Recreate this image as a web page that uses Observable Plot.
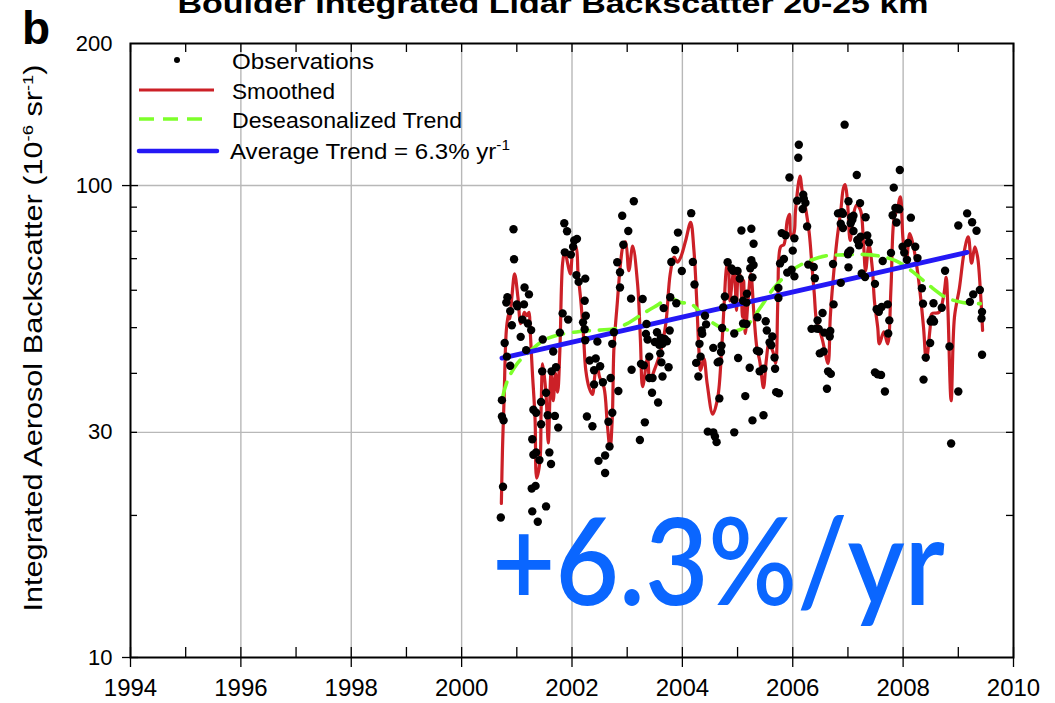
<!DOCTYPE html>
<html>
<head>
<meta charset="utf-8">
<script src="https://cdn.jsdelivr.net/npm/d3@7"></script>
<script src="https://cdn.jsdelivr.net/npm/@observablehq/plot@0.6"></script>
<style>
  html, body { margin: 0; padding: 0; background: #fff; }
  #chart svg { display: block; }
</style>
</head>
<body>
<div id="chart"></div>
<script>
// Boulder lidar: integrated aerosol backscatter, 20-25 km layer, 2000-2009.

// Individual lidar observations: [decimal year, backscatter (1e-6 sr^-1)]
const observations = [
  [2000.71,19.8],[2000.75,23.0],[2000.73,32.4],[2000.76,31.8],[2000.73,35.1],[2000.78,46.4],[2000.81,56.5],[2000.83,58.0],[2000.82,43.4],[2000.88,41.5],[2000.88,54.2],[2000.91,50.6],[2000.94,80.8],[2000.95,69.8],
  [2001.00,56.0],[2001.01,55.5],[2001.07,47.8],[2001.10,52.0],[2001.13,56.0],[2001.14,60.8],[2001.17,44.8],[2001.20,51.0],[2001.22,58.8],[2001.26,49.4],[2001.28,29.0],[2001.30,33.5],[2001.35,33.0],[2001.30,26.9],[2001.35,27.2],[2001.41,26.2],[2001.27,22.8],[2001.34,23.1],[2001.28,20.4],[2001.38,19.4],[2001.44,34.8],[2001.44,31.2],[2001.46,40.4],[2001.47,47.2],[2001.53,36.4],[2001.53,20.9],[2001.56,32.6],[2001.59,27.2],[2001.62,25.7],[2001.63,40.4],[2001.66,44.5],[2001.69,32.5],[2001.71,41.2],[2001.75,30.7],[2001.78,48.8],[2001.83,53.6],[2001.86,83.2],[2001.87,72.2],[2001.91,80.0],[2001.93,52.0],[2001.98,71.4],
  [2002.02,74.2],[2002.04,76.5],[2002.09,77.1],[2002.08,64.6],[2002.12,62.5],[2002.20,51.3],[2002.23,57.0],[2002.23,49.6],[2002.24,63.5],[2002.24,47.0],[2002.25,53.0],[2002.27,32.4],[2002.32,42.6],[2002.37,30.9],[2002.40,40.6],[2002.40,37.9],[2002.43,43.0],[2002.46,46.7],[2002.48,26.1],[2002.51,41.4],[2002.56,38.3],[2002.60,26.8],[2002.60,24.6],[2002.66,31.6],[2002.68,28.0],[2002.70,39.1],[2002.73,46.2],[2002.73,33.0],[2002.76,48.9],[2002.82,68.8],[2002.84,36.7],[2002.87,65.5],[2002.87,60.8],[2002.91,86.3],[2002.93,74.9],
  [2003.02,80.1],[2003.07,57.6],[2003.08,40.7],[2003.12,92.6],[2003.23,28.9],[2003.25,41.9],[2003.28,57.5],[2003.30,41.6],[2003.32,31.5],[2003.35,50.9],[2003.34,48.5],[2003.37,47.2],[2003.40,43.4],[2003.40,39.1],[2003.45,36.4],[2003.46,39.1],[2003.50,46.6],[2003.54,48.9],[2003.56,34.7],[2003.58,46.0],[2003.60,44.1],[2003.61,47.6],[2003.62,42.2],[2003.64,39.4],[2003.64,46.2],[2003.66,55.0],[2003.68,47.3],[2003.72,46.8],[2003.75,41.2],[2003.77,49.3],[2003.78,58.0],[2003.80,68.9],[2003.87,73.0],[2003.89,56.3],[2003.92,79.5],[2003.99,65.9],
  [2004.16,87.4],[2004.19,68.9],[2004.22,61.7],[2004.25,42.1],[2004.29,39.4],[2004.31,46.2],[2004.33,43.4],[2004.35,49.3],[2004.36,48.5],[2004.41,53.0],[2004.43,50.8],[2004.46,30.1],[2004.56,30.0],[2004.56,45.3],[2004.59,29.4],[2004.62,28.6],[2004.64,42.2],[2004.67,42.4],[2004.67,35.4],[2004.70,44.4],[2004.71,45.8],[2004.72,49.9],[2004.74,55.2],[2004.77,58.2],[2004.82,68.8],[2004.89,66.7],[2004.92,66.0],[2004.94,57.3],[2004.94,48.6],[2004.94,30.0],
  [2005.00,65.9],[2005.01,43.1],[2005.04,63.5],[2005.07,80.3],[2005.10,57.0],[2005.10,51.0],[2005.14,35.8],[2005.16,56.5],[2005.16,50.9],[2005.17,59.0],[2005.22,41.1],[2005.25,81.0],[2005.29,75.3],[2005.25,69.5],[2005.29,67.9],[2005.23,66.8],[2005.27,63.9],[2005.27,31.8],[2005.35,44.7],[2005.36,52.6],[2005.39,44.5],[2005.40,40.4],[2005.47,32.6],[2005.47,40.9],[2005.51,51.6],[2005.53,49.3],[2005.58,46.5],[2005.61,45.9],[2005.63,47.9],[2005.67,43.2],[2005.68,40.9],[2005.70,36.5],[2005.75,36.3],[2005.74,60.7],[2005.74,57.8],[2005.77,68.4],[2005.80,79.3],[2005.84,69.9],[2005.87,78.5],[2005.90,65.4],[2005.94,104.0],[2005.98,66.3],
  [2006.00,72.8],[2006.03,77.3],[2006.03,64.2],[2006.08,92.9],[2006.10,114.5],[2006.11,122.0],[2006.18,89.2],[2006.19,95.6],[2006.20,93.8],[2006.23,91.9],[2006.26,81.9],[2006.28,68.0],[2006.38,67.2],[2006.40,63.6],[2006.34,49.7],[2006.43,49.8],[2006.45,51.8],[2006.47,49.7],[2006.49,44.1],[2006.54,53.7],[2006.56,44.5],[2006.57,48.8],[2006.62,37.1],[2006.64,40.4],[2006.67,47.9],[2006.68,49.2],[2006.69,39.9],[2006.73,68.2],[2006.74,56.0],[2006.82,87.3],[2006.87,62.2],[2006.87,83.0],[2006.89,87.8],[2006.91,87.1],[2006.91,81.3],[2006.94,134.6],
  [2007.00,71.5],[2007.01,92.6],[2007.01,72.2],[2007.01,67.1],[2007.04,72.8],[2007.05,83.2],[2007.06,85.7],[2007.08,84.6],[2007.10,86.3],[2007.10,80.1],[2007.16,105.3],[2007.17,76.7],[2007.18,76.5],[2007.20,74.7],[2007.22,91.8],[2007.23,77.9],[2007.25,65.1],[2007.31,64.0],[2007.32,85.7],[2007.35,78.4],[2007.38,75.8],[2007.49,61.9],[2007.49,40.2],[2007.52,54.7],[2007.54,39.8],[2007.56,54.0],[2007.60,39.7],[2007.61,55.3],[2007.63,69.2],[2007.67,36.6],[2007.72,56.0],[2007.73,48.6],[2007.75,51.8],[2007.78,72.0],[2007.81,86.5],[2007.83,99.0],[2007.86,89.6],[2007.88,83.5],[2007.91,89.4],[2007.93,89.1],[2007.94,107.9],[2007.99,74.2],
  [2008.02,72.1],[2008.07,69.6],[2008.09,75.6],[2008.14,85.5],[2008.22,74.2],[2008.26,70.2],[2008.34,60.6],[2008.36,56.2],[2008.37,38.8],[2008.41,43.2],[2008.49,46.4],[2008.50,51.5],[2008.53,52.1],[2008.55,56.3],[2008.56,51.5],[2008.70,55.1],[2008.76,66.0],[2008.84,45.6],[2008.87,28.4],
  [2009.00,82.3],[2009.00,36.6],[2009.16,87.3],[2009.21,56.7],[2009.25,83.6],[2009.27,58.8],[2009.33,80.2],[2009.39,60.1],[2009.42,52.3],[2009.43,54.0],[2009.43,43.8]
];

// Smoothed record
const smoothed = [
  [2000.72,21.2],[2000.74,27.5],[2000.77,35.5],[2000.81,49.3],[2000.85,53.5],[2000.87,52.2],[2000.91,58],[2000.96,65],[2001.02,58],[2001.07,51],[2001.11,52.6],[2001.14,53.9],[2001.18,53],[2001.22,53.9],[2001.24,50],[2001.28,40.6],[2001.33,32.2],[2001.36,24],[2001.42,26.1],[2001.44,33.4],[2001.47,41.9],[2001.53,36],[2001.57,28.5],[2001.62,40],[2001.66,35],[2001.70,40],[2001.74,36.5],[2001.78,44.7],[2001.83,68.5],[2001.87,72.8],[2001.92,68.5],[2001.97,65],
  [2002.03,74],[2002.07,74],[2002.11,65],[2002.16,57],[2002.21,47.7],[2002.25,40.6],[2002.31,37.3],[2002.37,36.1],[2002.42,40],[2002.46,41.2],[2002.50,39.3],[2002.58,37.3],[2002.64,31.2],[2002.69,27.7],[2002.73,32.2],[2002.76,45.3],[2002.82,56.3],[2002.88,68.5],[2002.93,75],[2002.97,76],
  [2003.03,66],[2003.10,74.4],[2003.19,61.5],[2003.24,47],[2003.28,37.5],[2003.37,43.2],[2003.41,38.6],[2003.49,40.6],[2003.61,44.7],[2003.70,51],[2003.78,65],[2003.85,70.5],[2003.91,68.8],[2003.97,70.5],
  [2004.06,76.5],[2004.15,83.6],[2004.21,72.8],[2004.26,57],[2004.30,44.7],[2004.33,40.6],[2004.39,43],[2004.45,38],[2004.55,32.8],[2004.64,35.5],[2004.71,44.7],[2004.76,57],[2004.80,67],[2004.83,68.8],[2004.86,57],[2004.91,63.9],[2004.94,67],[2004.98,54.4],
  [2005.01,63.9],[2005.04,65],[2005.09,52.6],[2005.11,62.9],[2005.14,48.6],[2005.19,57],[2005.24,65],[2005.30,52.6],[2005.35,45.3],[2005.40,42.6],[2005.43,40],[2005.47,37.3],[2005.52,42.6],[2005.57,46.2],[2005.64,44.5],[2005.69,42],[2005.73,57],[2005.78,74.2],[2005.84,75],[2005.90,84.3],[2005.94,86.9],[2005.97,77.9],
  [2006.02,79.1],[2006.05,88.5],[2006.13,104.7],[2006.17,97.6],[2006.24,88.5],[2006.30,79.1],[2006.35,67.1],[2006.39,59],[2006.43,51.8],[2006.49,49.3],[2006.54,47],[2006.58,44.7],[2006.64,42],[2006.68,52.6],[2006.73,62.9],[2006.80,76.5],[2006.87,88.5],[2006.92,99],[2006.95,100.5],[2006.99,93],
  [2007.04,76.5],[2007.10,86.9],[2007.16,91],[2007.23,88.5],[2007.28,76.5],[2007.32,66],[2007.38,75],[2007.44,67.1],[2007.48,57],[2007.54,50],[2007.57,46.2],[2007.65,49],[2007.72,46.2],[2007.78,60.7],[2007.84,85.7],[2007.89,88.5],[2007.95,94.7],
  [2008.00,76.5],[2008.06,69.4],[2008.12,79.1],[2008.18,75],[2008.25,67.1],[2008.31,59],[2008.37,50],[2008.42,42.6],[2008.49,50],[2008.52,53.5],[2008.65,53.9],[2008.74,59],[2008.78,63.9],[2008.81,55.3],[2008.87,35],[2008.93,52.6],
  [2009.02,60.7],[2009.11,72.8],[2009.18,77.9],[2009.24,68.5],[2009.30,74.2],[2009.35,70.5],[2009.40,59.9],[2009.44,49.3]
];

// Deseasonalized trend
const deseasonalized = [
  [2000.74,35.5],[2000.83,38.6],[2001.01,42],[2001.25,44.7],[2001.49,47],[2001.73,48.2],[2002.03,48.9],[2002.33,49.3],[2002.76,49.7],[2003.0,51],[2003.25,53.2],[2003.49,55.3],[2003.79,57.7],[2003.97,56.5],[2004.15,56.2],[2004.45,52.2],[2004.75,49.7],[2004.99,49.3],[2005.20,51],[2005.42,55.3],[2005.66,60.7],[2005.96,65.8],[2006.24,68.8],[2006.61,71],[2006.92,71.3],[2007.23,71.5],[2007.54,71],[2007.85,69.4],[2008.15,66],[2008.46,61.6],[2008.77,58],[2009.08,56.5],[2009.40,56.2]
];

// Average trend line end points and its rate (% per year)
const trendRate = 6.3;
const averageTrend = [[2000.73, 43.1], [2009.16, 72.2]];

// Axis ticks and grid
const labelYears = [1994, 1996, 1998, 2000, 2002, 2004, 2006, 2008, 2010];
const oddYears = [1995, 1997, 1999, 2001, 2003, 2005, 2007, 2009];
const allYears = d3.range(1994, 2011);
const gridYears = [1996, 1998, 2000, 2002, 2004, 2006, 2008];
const yLabels = [10, 30, 100, 200];
const yMajorTicks = [10, 100];
const yMinorTicks = [20, 30, 40, 50, 60, 70, 80, 90];
const gridValues = [30, 100];

const W = 1055, H = 703;
const M = {top: 43, right: 42, bottom: 46, left: 130};
const innerW = W - M.left - M.right;
const innerH = H - M.top - M.bottom;

const colors = {smoothed: "#cc2027", deseason: "#7dff2a", trend: "#2418f5", obs: "#000", note: "#0a66ff"};
const fontFamily = "'Liberation Sans', Arial, Helvetica, sans-serif";

const X = d => d[0], Y = d => d[1];

const chart = Plot.plot({
  width: W, height: H,
  marginTop: M.top, marginRight: M.right, marginBottom: M.bottom, marginLeft: M.left,
  style: {fontFamily, background: "#fff", color: "#000", overflow: "hidden"},
  x: {domain: [1994, 2010]},
  y: {type: "log", domain: [10, 200]},
  marks: [
    Plot.gridX(gridYears, {stroke: "#b8b8b8", strokeOpacity: 1, strokeWidth: 1.4}),
    Plot.gridY(gridValues, {stroke: "#b8b8b8", strokeOpacity: 1, strokeWidth: 1.4}),
    Plot.line(smoothed, {x: X, y: Y, stroke: colors.smoothed, strokeWidth: 3.2, curve: "catmull-rom"}),
    Plot.line(deseasonalized, {x: X, y: Y, stroke: colors.deseason, strokeWidth: 3.6, strokeDasharray: "16,10", curve: "catmull-rom"}),
    Plot.line(averageTrend, {x: X, y: Y, stroke: colors.trend, strokeWidth: 4.8}),
    Plot.dot(observations, {x: X, y: Y, r: 4.2, fill: colors.obs, stroke: null}),
    // tick marks: bottom (majors cross the axis, minors inside), top inside
    Plot.ruleX(labelYears, {insetTop: innerH - 10, insetBottom: -10, stroke: "#000", strokeWidth: 1.3}),
    Plot.ruleX(oddYears, {insetTop: innerH - 10, stroke: "#000", strokeWidth: 1.3}),
    Plot.ruleX(allYears, {insetBottom: innerH - 9, stroke: "#000", strokeWidth: 1.3}),
    // left and right y ticks
    Plot.ruleY(yMajorTicks, {insetLeft: -8, insetRight: innerW - 8, stroke: "#000", strokeWidth: 1.3}),
    Plot.ruleY(yMinorTicks, {insetRight: innerW - 7, stroke: "#000", strokeWidth: 1.3}),
    Plot.ruleY(yMinorTicks, {insetLeft: innerW - 7, stroke: "#000", strokeWidth: 1.3}),
    Plot.ruleY([100], {insetLeft: innerW - 9, stroke: "#000", strokeWidth: 1.3}),
    Plot.axisX(labelYears, {tickSize: 0, tickPadding: 21, fontSize: 24, tickFormat: d => String(d), label: null}),
    Plot.axisY(yLabels, {tickSize: 0, tickPadding: 18, fontSize: 22, tickFormat: d => String(d), label: null}),
    Plot.frame({stroke: "#000", strokeWidth: 2})
  ]
});

document.getElementById("chart").appendChild(chart);

// Title, panel letter, axis title, legend and the rate annotation
const svg = d3.select(chart);
const g = svg.append("g")
  .attr("font-family", fontFamily)
  .attr("fill", "#000")
  .attr("text-anchor", "start");

g.append("text")
  .attr("x", 553).attr("y", 13)
  .attr("text-anchor", "middle")
  .attr("font-weight", "bold").attr("font-size", 28)
  .attr("textLength", 751).attr("lengthAdjust", "spacingAndGlyphs")
  .text("Boulder Integrated Lidar Backscatter 20-25 km");

g.append("text")
  .attr("x", 22).attr("y", 44)
  .attr("font-weight", "bold").attr("font-size", 46)
  .text("b");

// y axis title with superscripts
const yTitle = g.append("text")
  .attr("transform", "translate(42,338) rotate(-90)")
  .attr("text-anchor", "middle")
  .attr("font-size", 25)
  .attr("textLength", 547).attr("lengthAdjust", "spacingAndGlyphs");
yTitle.append("tspan").text("Integrated Aerosol Backscatter (10");
yTitle.append("tspan").attr("dy", -9).attr("font-size", 15).text("-6");
yTitle.append("tspan").attr("dy", 9).text(" sr");
yTitle.append("tspan").attr("dy", -9).attr("font-size", 15).text("-1");
yTitle.append("tspan").attr("dy", 9).text(")");

// legend
const legend = g.append("g").attr("font-size", 22);
legend.append("circle").attr("cx", 177).attr("cy", 60).attr("r", 3).attr("fill", colors.obs);
legend.append("line").attr("x1", 139).attr("x2", 214).attr("y1", 90).attr("y2", 90)
  .attr("stroke", colors.smoothed).attr("stroke-width", 3);
legend.append("line").attr("x1", 139).attr("x2", 207).attr("y1", 119).attr("y2", 119)
  .attr("stroke", colors.deseason).attr("stroke-width", 3.5).attr("stroke-dasharray", "15,9");
legend.append("line").attr("x1", 139).attr("x2", 217).attr("y1", 151).attr("y2", 151)
  .attr("stroke", colors.trend).attr("stroke-width", 4.5).attr("stroke-linecap", "round");

const legendRows = [
  {label: "Observations", y: 68.5, len: 142},
  {label: "Smoothed", y: 98.5, len: 103},
  {label: "Deseasonalized Trend", y: 127.5, len: 230}
];
for (const row of legendRows) {
  legend.append("text").attr("x", 232).attr("y", row.y)
    .attr("textLength", row.len).attr("lengthAdjust", "spacingAndGlyphs")
    .text(row.label);
}
const avg = legend.append("text").attr("x", 230).attr("y", 158.5)
  .attr("textLength", 280).attr("lengthAdjust", "spacingAndGlyphs");
avg.append("tspan").text(`Average Trend = ${trendRate}% yr`);
avg.append("tspan").attr("dy", -9).attr("font-size", 14).text("-1");

// big rate annotation
g.append("text")
  .attr("x", 492).attr("y", 605)
  .attr("font-family", "Lato, 'Open Sans', sans-serif")
  .attr("font-weight", 600)
  .attr("font-size", 122)
  .attr("fill", colors.note)
  .attr("textLength", 453).attr("lengthAdjust", "spacingAndGlyphs")
  .text(`+${trendRate}%/yr`);
</script>
</body>
</html>
